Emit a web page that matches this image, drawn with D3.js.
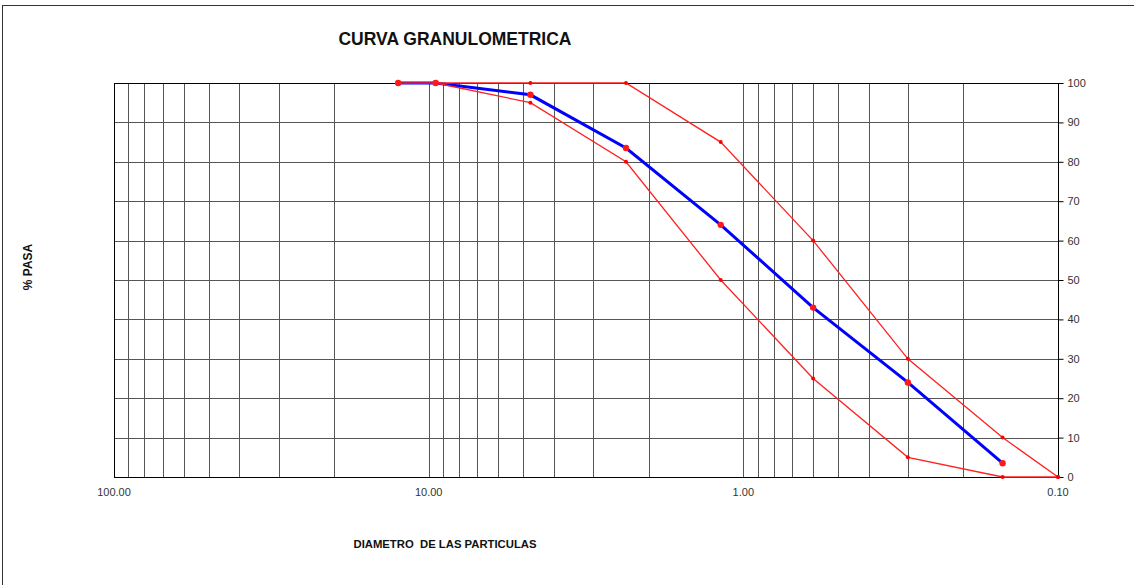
<!DOCTYPE html>
<html>
<head>
<meta charset="utf-8">
<script src="https://cdn.jsdelivr.net/npm/d3@7"></script>
<style>
  body { margin: 0; background: #fff; }
  svg { display: block; font-family: "Liberation Sans", Arial, sans-serif; }
</style>
</head>
<body>
<div id="chart"></div>
<script>
// Tamices (mm) y % que pasa
const muestraSize = [12.5, 9.5, 4.75, 2.36, 1.18, 0.6, 0.3, 0.15];
const muestraPasa = [100, 100, 97, 83.5, 64, 43, 24, 3.5];

const superiorSize = [12.5, 9.5, 4.75, 2.36, 1.18, 0.6, 0.3, 0.15, 0.1];
const superiorPasa = [100, 100, 100, 100, 85, 60, 30, 10, 0];

const inferiorSize = [9.5, 4.75, 2.36, 1.18, 0.6, 0.3, 0.15, 0.1];
const inferiorPasa = [100, 95, 80, 50, 25, 5, 0, 0];

const xTicks = [100, 10, 1, 0.1];
const yTicks = [0, 10, 20, 30, 40, 50, 60, 70, 80, 90, 100];

const W = 1134, H = 585;
const plot = { left: 114, right: 1058, top: 83, bottom: 477 };

const svg = d3.select("#chart").append("svg")
  .attr("width", W).attr("height", H);

// marco exterior
svg.append("rect")
  .attr("x", 2.5).attr("y", 5.5)
  .attr("width", W + 10).attr("height", H + 10)
  .attr("fill", "none").attr("stroke", "#333");

const x = d3.scaleLog().domain([100, 0.1]).range([plot.left, plot.right]);
const y = d3.scaleLinear().domain([0, 100]).range([plot.bottom, plot.top]);

const snap = v => Math.round(v) + 0.5;

// grilla vertical (1..9 por década)
const minor = [];
[10, 1, 0.1].forEach(dec => {
  for (let k = 1; k <= 9; k++) minor.push(dec * k);
});
svg.append("g").selectAll("line")
  .data(minor.filter(d => d < 100 && d > 0.1))
  .join("line")
    .attr("x1", d => snap(x(d))).attr("x2", d => snap(x(d)))
    .attr("y1", plot.top).attr("y2", plot.bottom)
    .attr("stroke", "#555").attr("stroke-width", 1);

// grilla horizontal
svg.append("g").selectAll("line")
  .data(yTicks)
  .join("line")
    .attr("x1", plot.left).attr("x2", plot.right)
    .attr("y1", d => snap(y(d))).attr("y2", d => snap(y(d)))
    .attr("stroke", "#555").attr("stroke-width", 1);

// marco del gráfico
svg.append("rect")
  .attr("x", snap(plot.left)).attr("y", snap(plot.top))
  .attr("width", Math.round(plot.right - plot.left)).attr("height", Math.round(plot.bottom - plot.top))
  .attr("fill", "none").attr("stroke", "#000");

// eje derecho
const yAxis = svg.append("g")
  .attr("transform", `translate(${snap(plot.right)},0)`)
  .call(d3.axisRight(y).tickValues(yTicks).tickSize(5).tickPadding(4).tickFormat(d3.format("d")));
yAxis.select(".domain").remove();
yAxis.selectAll("text").attr("font-size", 11).attr("fill", "#333")
  .attr("font-family", "Liberation Sans, Arial, sans-serif");
yAxis.selectAll("line").attr("stroke", "#000");

// etiquetas eje x
svg.append("g").selectAll("text")
  .data(xTicks)
  .join("text")
    .attr("x", d => x(d)).attr("y", 496)
    .attr("text-anchor", "middle")
    .attr("font-size", 11).attr("fill", "#333")
    .text(d3.format(".2f"));

const line = d3.line().x(d => x(d[0])).y(d => y(d[1]));

const superior = superiorSize.map((s, i) => [s, superiorPasa[i]]);
const inferior = inferiorSize.map((s, i) => [s, inferiorPasa[i]]);
const muestra = muestraSize.map((s, i) => [s, muestraPasa[i]]);

// curva de la muestra
svg.append("path").datum(muestra)
  .attr("d", line).attr("fill", "none")
  .attr("stroke", "#0000ff").attr("stroke-width", 3);

// límites
[superior, inferior].forEach(serie => {
  svg.append("path").datum(serie)
    .attr("d", line).attr("fill", "none")
    .attr("stroke", "#ff2020").attr("stroke-width", 1.3);
  svg.append("g").selectAll("circle")
    .data(serie)
    .join("circle")
      .attr("cx", d => x(d[0])).attr("cy", d => y(d[1]))
      .attr("r", 2).attr("fill", "#ff0000");
});

svg.append("g").selectAll("circle")
  .data(muestra)
  .join("circle")
    .attr("cx", d => x(d[0])).attr("cy", d => y(d[1]))
    .attr("r", 3.2).attr("fill", "#ff1a1a");

// títulos
svg.append("text")
  .attr("x", 455).attr("y", 45)
  .attr("text-anchor", "middle")
  .attr("font-size", 17.5).attr("font-weight", "bold").attr("fill", "#111")
  .text("CURVA GRANULOMETRICA");

svg.append("text")
  .attr("x", 445).attr("y", 548)
  .attr("text-anchor", "middle")
  .attr("font-size", 11.3).attr("font-weight", "bold").attr("fill", "#111")
  .style("white-space", "pre")
  .text("DIAMETRO  DE LAS PARTICULAS");

svg.append("text")
  .attr("transform", "translate(32,267) rotate(-90)")
  .attr("text-anchor", "middle")
  .attr("font-size", 12).attr("font-weight", "bold").attr("fill", "#111")
  .style("white-space", "pre")
  .text("% PASA");
</script>
</body>
</html>
